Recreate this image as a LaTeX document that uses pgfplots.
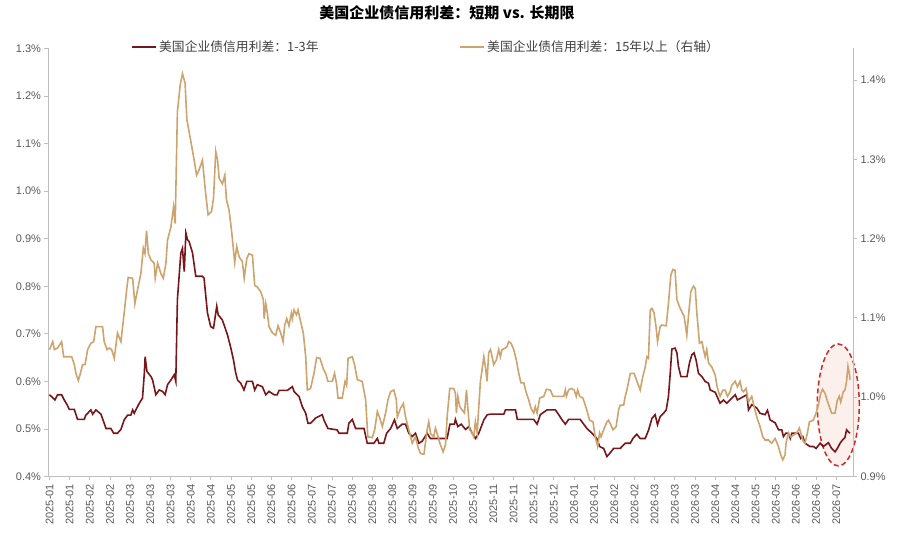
\documentclass[border=0pt]{standalone}
\usepackage{fontspec}
\setmainfont{Liberation Sans}
\newfontfamily\cjk{Noto Sans CJK SC}
\usepackage{pgfplots}
\pgfplotsset{compat=1.18}
\definecolor{dred}{RGB}{120,22,26}
\definecolor{tanc}{RGB}{205,164,110}
\definecolor{axgray}{RGB}{191,191,191}
\definecolor{lblgray}{RGB}{89,89,89}
\definecolor{leggray}{RGB}{64,64,64}
\definecolor{ellred}{RGB}{210,40,40}
\definecolor{ellfill}{RGB}{252,240,236}

\pgfplotsset{
  base/.style={
    scale only axis, width=804.5pt, height=428pt,
    at={(48.5pt,66.5pt)}, anchor=south west,
    xmin=-0.5, xmax=398.3,
    ticklabel style={font=\fontsize{11}{13}\selectfont, text=lblgray},
    tick align=outside, major tick length=4pt,
    tick style={axgray, line width=0.8pt},
    axis line style={axgray, line width=0.8pt, -},
  }
}

\begin{document}
\begin{tikzpicture}[x=1pt,y=1pt]
\path[use as bounding box] (0,0) rectangle (900,543);

% ellipse highlight (background)
\begin{axis}[base, ymin=0.4, ymax=1.3, hide axis, clip=false]
\draw[ellred, fill=ellfill, line width=1.5pt, dash pattern=on 5pt off 3pt]
  (axis cs:391,0.5505) ellipse [x radius=21pt, y radius=61pt];
\end{axis}

% left axis: 1-3 years
\begin{axis}[base, ymin=0.4, ymax=1.3,
  axis x line*=bottom, axis y line*=left,
  xtick={0,10,...,390},
  xticklabels={2025-01,2025-01,2025-02,2025-02,2025-03,2025-03,2025-03,2025-04,2025-04,2025-05,2025-05,2025-06,2025-06,2025-07,2025-07,2025-08,2025-08,2025-08,2025-09,2025-09,2025-10,2025-10,2025-11,2025-11,2025-12,2025-12,2026-01,2026-01,2026-02,2026-02,2026-03,2026-03,2026-03,2026-04,2026-04,2026-05,2026-05,2026-06,2026-06,2026-07},
  xticklabel style={rotate=90, anchor=east},
  ytick={0.4,0.5,0.6,0.7,0.8,0.9,1.0,1.1,1.2,1.3},
  yticklabel={\pgfmathprintnumber[fixed,fixed zerofill,precision=1,assume math mode=true]{\tick}\%},
  legend columns=2,
  legend image code/.code={\draw[#1] (0pt,0pt) -- (24pt,0pt);},
  legend style={at={(axis description cs:0.103,1.0035)}, anchor=west, draw=none, fill=none,
    inner sep=0pt, font=\cjk\fontsize{12.8}{14}\selectfont, text=leggray,
    /tikz/every even column/.append style={column sep=139pt}},
]
\addlegendimage{dred, line width=1.6pt}
\addlegendentry{美国企业债信用利差：1-3年}
\addlegendimage{tanc, line width=1.6pt}
\addlegendentry{美国企业债信用利差：15年以上（右轴）}
\addplot[dred, line width=1.6pt, forget plot] table {
0 0.572
2.7 0.561
4 0.572
6 0.572
7.3 0.561
8.7 0.551
9.8 0.541
12.3 0.541
13.9 0.520
17.2 0.520
18 0.529
20.5 0.540
21.4 0.531
23 0.540
25.5 0.531
27.1 0.512
28 0.501
30.4 0.501
31.8 0.491
33.7 0.491
35.4 0.499
37 0.519
38.7 0.529
40.3 0.529
41.2 0.540
42 0.533
42.8 0.540
44.5 0.554
46.1 0.565
47 0.617
47.4 0.652
48.3 0.621
50.3 0.610
51.1 0.603
52.7 0.572
54.4 0.582
56 0.579
57.3 0.572
58.5 0.593
60.2 0.603
61.8 0.614
62.6 0.600
63.4 0.772
65.1 0.870
65.9 0.880
66.8 0.831
67.6 0.912
68.4 0.898
69.2 0.894
70.9 0.870
72.5 0.821
75.8 0.821
76.6 0.817
78.3 0.744
79.9 0.715
81.3 0.712
82.9 0.758
83.6 0.740
85.7 0.729
88.2 0.698
89.9 0.670
91.2 0.645
92.2 0.620
93.2 0.603
94.8 0.596
96.4 0.582
97.8 0.600
100.6 0.600
101.7 0.582
103 0.593
105.5 0.589
107.2 0.572
108.8 0.579
111.3 0.572
112.9 0.572
113.8 0.581
117.9 0.581
120.4 0.589
121.2 0.579
123.7 0.568
125.3 0.547
127 0.533
128.1 0.512
129.4 0.512
131.9 0.523
135.2 0.530
136 0.519
138 0.501
142.6 0.498
143.5 0.491
147.6 0.491
148.4 0.512
150.1 0.520
151.7 0.501
155.9 0.501
157.5 0.470
160.8 0.470
162.5 0.480
163.3 0.470
165.7 0.470
167.1 0.491
169.1 0.501
171 0.519
172.4 0.501
174.8 0.510
176.5 0.510
178.1 0.491
179.8 0.484
181.4 0.491
183.1 0.470
184.7 0.474
187.2 0.491
188.8 0.480
191.3 0.480
197.1 0.480
198.5 0.510
200.7 0.510
201.2 0.520
202.4 0.505
204.1 0.510
206.2 0.499
207.9 0.505
209.5 0.491
211.2 0.480
212.8 0.491
215.3 0.519
217 0.530
218.6 0.531
225.2 0.531
226 0.540
231 0.540
231.9 0.520
240 0.520
241.7 0.510
243.3 0.530
246.6 0.540
250.8 0.540
252.4 0.530
254.1 0.519
255.7 0.510
257.3 0.520
263.1 0.520
264.8 0.510
266.4 0.501
268.9 0.491
271.3 0.480
272.7 0.463
274.7 0.459
276.3 0.442
278 0.450
279.6 0.459
282.9 0.459
285.4 0.470
287.9 0.470
289.2 0.480
291.1 0.489
292.8 0.480
295.3 0.480
297 0.498
298.6 0.522
300.2 0.530
301.4 0.509
302.7 0.526
304.4 0.533
305.7 0.540
306.8 0.568
307.7 0.617
308.5 0.668
310.1 0.670
311 0.660
311.8 0.631
313 0.610
316 0.610
317.2 0.638
318.4 0.656
319.5 0.660
320.5 0.645
321.7 0.617
323.4 0.610
325 0.600
326.7 0.596
327.5 0.582
330 0.577
332.4 0.554
334.1 0.561
335.7 0.554
337.4 0.561
339.9 0.572
341 0.561
345.7 0.572
346.5 0.540
348.1 0.551
350.6 0.544
352.2 0.533
354.7 0.530
355.9 0.539
357.2 0.519
359.7 0.513
361.4 0.498
363 0.498
363.8 0.484
365 0.491
366.3 0.491
367.2 0.480
368 0.491
371.2 0.491
372.4 0.480
373.4 0.484
374.5 0.470
377 0.463
378.7 0.463
380 0.459
382 0.470
383.6 0.463
386.1 0.471
387.7 0.459
389.4 0.452
390.5 0.459
391.9 0.470
393.1 0.477
394.3 0.482
395.1 0.498
396 0.494
396.8 0.491
};
\end{axis}

% right axis: 15+ years
\begin{axis}[base, ymin=0.9, ymax=1.4397,
  axis y line*=right, axis x line=none,
  ytick={0.9,1.0,1.1,1.2,1.3,1.4},
  yticklabel={\pgfmathprintnumber[fixed,fixed zerofill,precision=1,assume math mode=true]{\tick}\%},
]
\addplot[tanc, line width=1.6pt] table {
0 1.060
1.6 1.070
2.4 1.060
4 1.062
6 1.070
7 1.051
11 1.051
12.3 1.041
13.1 1.030
14.3 1.021
15.3 1.030
16.4 1.041
17.6 1.041
18.9 1.060
20.5 1.068
21.9 1.070
23 1.089
26.3 1.089
27.1 1.070
28.5 1.060
29.6 1.062
30.8 1.060
32.1 1.049
33.7 1.081
35.4 1.070
37 1.106
38.4 1.139
39 1.151
41.2 1.150
42.3 1.118
43.6 1.135
45.3 1.156
46.5 1.188
47.3 1.181
48.1 1.210
49 1.181
50.3 1.173
51.9 1.169
52.4 1.150
53.6 1.169
55.2 1.156
56.4 1.150
57.7 1.169
58.5 1.198
60.2 1.215
61.5 1.240
62.3 1.219
63.4 1.360
64.8 1.394
65.9 1.408
67.2 1.396
68.1 1.350
70.1 1.322
71.7 1.299
72.9 1.280
74.2 1.287
75.8 1.299
77.4 1.257
78.6 1.230
80.3 1.234
81.3 1.251
82.4 1.310
83.3 1.299
84.1 1.276
85.7 1.269
86.9 1.280
87.7 1.249
89 1.236
90.2 1.211
91.8 1.170
92.8 1.190
94 1.177
95.6 1.171
96.5 1.150
97.8 1.175
98.9 1.181
100.6 1.179
101.7 1.141
103 1.139
104.7 1.133
106 1.123
106.4 1.099
107.2 1.118
108 1.106
108.8 1.089
110.5 1.081
112.1 1.078
113.3 1.090
114.6 1.081
115.8 1.070
116.6 1.091
117.6 1.099
118.7 1.090
119.9 1.106
120.4 1.099
121.2 1.110
122.4 1.104
123.2 1.110
124.5 1.095
125.8 1.081
127 1.051
127.8 1.009
129.4 1.011
131.1 1.030
132.4 1.050
134.1 1.049
135.7 1.036
136.9 1.030
138 1.020
140.2 1.020
141.3 1.030
142.3 1.017
143 0.999
145.1 0.999
146.5 1.020
147.3 1.015
148 1.049
150.1 1.051
151.2 1.041
152.6 1.022
155 1.020
156.7 0.997
157.8 0.950
160 0.949
161.2 0.959
162.5 0.982
163.8 0.973
165 0.963
166.6 0.980
167.8 0.997
169.1 1.007
170.7 1.009
171.9 0.997
172.4 0.975
174 0.986
175.4 0.992
176.5 0.975
178.1 0.959
179.8 0.942
181.4 0.950
182.8 0.936
183.9 0.929
185.6 0.928
187.2 0.959
188 0.969
188.9 0.954
190.5 0.950
191.3 0.961
192.2 0.954
193.5 0.942
195.1 0.931
196.3 0.940
197.1 0.975
198.4 1.011
200.4 1.011
201.2 1.005
201.7 0.980
202.4 1.001
203.4 0.988
204.5 0.984
205.7 0.980
206.7 1.009
207.3 0.988
208.3 0.959
209.5 0.955
210.3 0.950
211.1 0.969
212 0.955
212.8 0.988
213.6 1.020
214.4 1.034
215.3 1.051
216.1 1.038
216.9 1.020
217.7 1.056
218.6 1.060
219.4 1.051
220.2 1.041
221.5 1.047
222.7 1.060
223.5 1.051
224.3 1.060
226 1.062
226.8 1.064
227.6 1.070
228.8 1.068
230.1 1.060
231.4 1.047
232.6 1.030
233.7 1.018
235.1 1.018
236.4 1.005
237.5 0.997
238.7 0.986
240 0.980
240.8 0.988
241.7 0.980
243 0.999
245 1.001
246.3 1.010
248.3 1.009
249.6 1.001
254.9 1.001
255.7 1.009
256.2 1.001
257.3 1.009
258.5 1.011
260.1 1.009
261.1 1.001
261.8 1.009
262.8 1.001
264.4 0.999
266.1 0.986
267.7 0.971
269.4 0.969
270.5 0.950
271.7 0.938
272.7 0.955
273.4 0.950
274.7 0.959
276.3 0.969
277.1 0.971
278.3 0.965
279.3 0.959
280.9 0.963
282.1 0.984
282.9 0.990
284.6 0.990
285.4 1.001
286.2 1.009
287.9 1.030
289.8 1.030
291.2 1.020
292.8 1.009
294.1 1.026
295.3 1.038
296.1 1.051
296.9 1.049
297.8 1.110
298.6 1.112
299.7 1.106
300.7 1.088
301.4 1.070
302.7 1.089
303.5 1.091
305.7 1.090
306.8 1.118
308 1.154
309 1.161
310.1 1.160
311 1.123
312.3 1.114
313.4 1.108
314.6 1.102
315.9 1.078
316.8 1.104
317.9 1.133
319.2 1.140
320.1 1.137
320.9 1.106
322.2 1.068
323.4 1.070
324.2 1.060
325 1.051
325.8 1.060
326.7 1.043
328.3 1.038
330 1.028
330.8 1.015
331.6 1.007
332.4 1.001
333.8 1.009
334.9 1.009
336.1 1.001
337.4 1.007
338.2 1.015
339.9 1.020
341 1.013
342.3 1.020
343.2 1.009
344 1.007
345.3 1.011
346.5 0.994
348.1 1.001
349.3 0.988
350.6 0.975
352.2 0.963
353.6 0.950
354.7 0.946
356.4 0.946
358 0.942
359.7 0.948
361.3 0.938
362.5 0.927
363.5 0.921
364.6 0.927
365.1 0.942
366.3 0.955
367.4 0.950
368.7 0.952
370.4 0.955
371.7 0.961
372.4 0.955
373.7 0.944
374.5 0.942
375.7 0.955
376.7 0.969
378.6 0.971
380 0.980
381.1 0.990
382.3 1.005
383.2 1.010
384.4 1.005
386 0.992
387.7 0.980
389.4 0.980
390.5 0.996
391.5 1.001
392.2 0.994
393.5 1.007
394.3 1.009
395.1 1.020
395.8 1.039
396.5 1.030
396.8 1.022
};
\end{axis}

\node[font=\cjk\bfseries\fontsize{15}{17}\selectfont, text=black] at (447,530) {美国企业债信用利差：短期 vs. 长期限};
\end{tikzpicture}
\end{document}
